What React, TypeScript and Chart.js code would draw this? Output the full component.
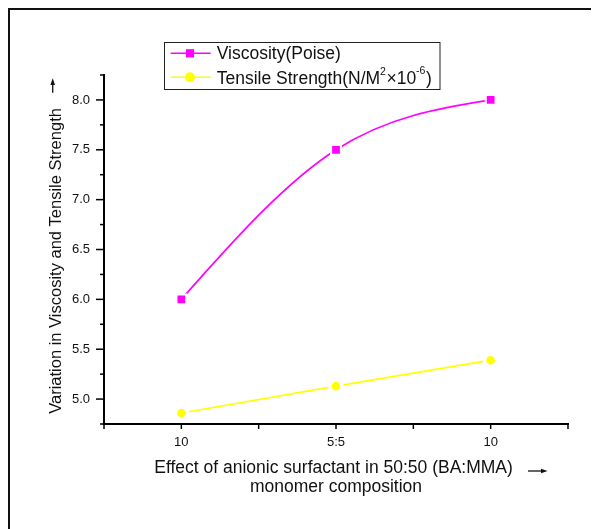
import { useEffect, useRef } from "react";
import { Chart, registerables } from "chart.js";

Chart.register(...registerables);

// ---- data ----
const categories = ["10", "5:5", "10"];
const categoryPositions = [1, 2, 3];
const viscosity = [6.0, 7.5, 8.0];
const tensile = [4.86, 5.13, 5.39];
const seriesNames = ["Viscosity(Poise)", "Tensile Strength(N/M²×10⁻⁶)"];
const yMin = 4.75;
const yMax = 8.25;
const yStep = 0.25;
const yLabelStep = 0.5;
const xMin = 0.5;
const xMax = 3.5;
const xStep = 0.5;
const xTitle = ["Effect of anionic surfactant in 50:50 (BA:MMA) ", "monomer composition"];
const yTitle = "Variation in Viscosity and Tensile Strength     ";

const FONT = "'Liberation Sans', Arial, Helvetica, sans-serif";
const MAGENTA = "#FF00FF";
const YELLOW = "#FFFF00";

const isMajorY = (v: number) => Math.abs(v / yLabelStep - Math.round(v / yLabelStep)) < 1e-6;

function buildTicks(min: number, max: number, step: number) {
  const out: { value: number }[] = [];
  const n = Math.round((max - min) / step);
  for (let i = 0; i <= n; i++) out.push({ value: +(min + i * step).toFixed(4) });
  return out;
}

// Replace Chart.js' bezier control points with those of a natural cubic spline
// (as Origin draws its "spline" connect style), computed from the scaled points.
const splinePlugin = {
  id: "naturalSpline",
  beforeDatasetDraw(chart: any, args: any) {
    const meta = chart.getDatasetMeta(args.index);
    const line = meta.dataset;
    if (!line) return;
    line.updateControlPoints(chart.chartArea, "x");
    const pts = meta.data;
    const n = pts.length;
    if (n < 3) return;
    const xs = pts.map((p: any) => p.x);
    const ys = pts.map((p: any) => p.y);
    const h: number[] = [];
    for (let i = 0; i < n - 1; i++) h[i] = xs[i + 1] - xs[i];
    const a: number[] = [], b: number[] = [], c: number[] = [], d: number[] = [];
    for (let i = 1; i < n - 1; i++) {
      a[i] = h[i - 1];
      b[i] = 2 * (h[i - 1] + h[i]);
      c[i] = h[i];
      d[i] = 6 * ((ys[i + 1] - ys[i]) / h[i] - (ys[i] - ys[i - 1]) / h[i - 1]);
    }
    const M = new Array(n).fill(0);
    const cp: number[] = [], dp: number[] = [];
    for (let i = 1; i < n - 1; i++) {
      const m = b[i] - (i > 1 ? a[i] * cp[i - 1] : 0);
      cp[i] = c[i] / m;
      dp[i] = (d[i] - (i > 1 ? a[i] * dp[i - 1] : 0)) / m;
    }
    for (let i = n - 2; i >= 1; i--) {
      M[i] = dp[i] - (i < n - 2 ? cp[i] * M[i + 1] : 0);
    }
    for (let i = 0; i < n - 1; i++) {
      const hh = h[i];
      const s = (ys[i + 1] - ys[i]) / hh;
      const m0 = s - (hh * (2 * M[i] + M[i + 1])) / 6;
      const m1 = s + (hh * (M[i] + 2 * M[i + 1])) / 6;
      pts[i].cp2x = xs[i] + hh / 3;
      pts[i].cp2y = ys[i] + (m0 * hh) / 3;
      pts[i + 1].cp1x = xs[i + 1] - hh / 3;
      pts[i + 1].cp1y = ys[i + 1] - (m1 * hh) / 3;
    }
  },
};

const decorPlugin = {
  id: "decor",
  afterDraw(chart: any) {
    const ctx: CanvasRenderingContext2D = chart.ctx;
    const { left, bottom } = chart.chartArea;
    ctx.save();
    // outer frame
    ctx.fillStyle = "#111";
    ctx.fillRect(0, 0, chart.width, 2);
    ctx.fillRect(0, 0, 2, chart.height);

    // tick marks
    ctx.strokeStyle = "#000";
    ctx.lineWidth = 1.5;
    const ys = chart.scales.y;
    ys.ticks.forEach((t: any) => {
      const py = ys.getPixelForValue(t.value);
      const len = isMajorY(t.value) ? 8 : 4;
      ctx.beginPath();
      ctx.moveTo(left, py);
      ctx.lineTo(left - len, py);
      ctx.stroke();
    });
    const xs = chart.scales.x;
    xs.ticks.forEach((t: any) => {
      const px = xs.getPixelForValue(t.value);
      ctx.beginPath();
      ctx.moveTo(px, bottom);
      ctx.lineTo(px, bottom + 5);
      ctx.stroke();
    });

    // arrows
    ctx.fillStyle = "#111";
    ctx.strokeStyle = "#111";
    ctx.lineWidth = 1.3;
    const ax = 44.7;
    ctx.beginPath();
    ctx.moveTo(ax, 84.7);
    ctx.lineTo(ax, 75);
    ctx.stroke();
    ctx.beginPath();
    ctx.moveTo(ax, 70.3);
    ctx.lineTo(ax - 2.3, 77);
    ctx.lineTo(ax + 2.3, 77);
    ctx.closePath();
    ctx.fill();
    const ay = 463;
    ctx.beginPath();
    ctx.moveTo(520, ay);
    ctx.lineTo(534, ay);
    ctx.stroke();
    ctx.beginPath();
    ctx.moveTo(539.5, ay);
    ctx.lineTo(533, ay - 2.3);
    ctx.lineTo(533, ay + 2.3);
    ctx.closePath();
    ctx.fill();

    // legend
    const bx = 156.5, by = 34.5, bw = 275.5, bh = 47;
    ctx.strokeStyle = "#222";
    ctx.lineWidth = 1;
    ctx.strokeRect(bx, by, bw, bh);
    const rows = [45.3, 69.3];
    const colors = [MAGENTA, YELLOW];
    rows.forEach((ry, i) => {
      ctx.strokeStyle = colors[i];
      ctx.lineWidth = 1.5;
      ctx.beginPath();
      ctx.moveTo(162.7, ry);
      ctx.lineTo(202.7, ry);
      ctx.stroke();
      ctx.fillStyle = colors[i];
      if (i === 0) {
        ctx.fillRect(182 - 4.1, ry - 4.1, 8.2, 8.2);
      } else {
        ctx.beginPath();
        ctx.arc(182, ry, 5, 0, Math.PI * 2);
        ctx.fill();
      }
    });
    ctx.fillStyle = "#111";
    ctx.textBaseline = "alphabetic";
    ctx.textAlign = "left";
    const main = `17.5px ${FONT}`;
    const sup = `10.5px ${FONT}`;
    ctx.font = main;
    ctx.fillText(seriesNames[0], 208.7, 51.3);
    const segs: [string, boolean, number][] = [
      ["Tensile Strength(N/M", false, 0],
      ["2", true, 8.3],
      ["×10", false, 0],
      ["-6", true, 10],
      [")", false, 0],
    ];
    let tx = 208.7;
    const base = 75.5;
    segs.forEach(([s, isSup, raise]) => {
      ctx.font = isSup ? sup : main;
      ctx.fillText(s, tx, base - raise);
      tx += ctx.measureText(s).width + (isSup ? 0.5 : 0);
    });
    ctx.restore();
  },
};

export default function App() {
  const ref = useRef<HTMLCanvasElement | null>(null);
  useEffect(() => {
    document.documentElement.style.overflow = "hidden";
    document.body.style.overflow = "hidden";
    const canvas = ref.current;
    if (!canvas) return;
    const chart = new Chart(canvas, {
      type: "line",
      data: {
        datasets: [
          {
            label: seriesNames[0],
            data: categoryPositions.map((x, i) => ({ x, y: viscosity[i] })),
            borderColor: MAGENTA,
            backgroundColor: MAGENTA,
            borderWidth: 1.7,
            tension: 0.4,
            pointStyle: "rect",
            pointRadius: 6.9,
            pointBorderWidth: 2,
            pointBorderColor: "#ffffff",
            pointBackgroundColor: MAGENTA,
            fill: false,
          },
          {
            label: seriesNames[1],
            data: categoryPositions.map((x, i) => ({ x, y: tensile[i] })),
            borderColor: YELLOW,
            backgroundColor: YELLOW,
            borderWidth: 1.7,
            tension: 0.4,
            pointStyle: "circle",
            pointRadius: 6,
            pointBorderWidth: 3.4,
            pointBorderColor: "#ffffff",
            pointBackgroundColor: YELLOW,
            fill: false,
          },
        ],
      },
      options: {
        animation: false,
        responsive: false,
        devicePixelRatio: 1,
        layout: { padding: { left: 0, top: 67, right: 31, bottom: 0 } },
        plugins: {
          legend: { display: false },
          tooltip: { enabled: false },
        },
        scales: {
          x: {
            type: "linear",
            min: xMin,
            max: xMax,
            afterFit: (s: any) => {
              s.height = 105;
            },
            afterBuildTicks: (s: any) => {
              s.ticks = buildTicks(xMin, xMax, xStep);
            },
            ticks: {
              autoSkip: false,
              maxRotation: 0,
              padding: 11,
              color: "#111",
              font: { family: FONT, size: 13 },
              callback: (v: any) => {
                const idx = categoryPositions.indexOf(Number(v));
                return idx >= 0 ? categories[idx] : "";
              },
            },
            grid: { display: false, drawTicks: false },
            border: { display: true, color: "#000", width: 2 },
            title: {
              display: true,
              text: xTitle,
              color: "#111",
              font: { family: FONT, size: 17.5, lineHeight: 1.1 },
              padding: { top: 0, bottom: 32.4 },
            },
          },
          y: {
            type: "linear",
            min: yMin,
            max: yMax,
            afterFit: (s: any) => {
              s.width = 96;
            },
            afterBuildTicks: (s: any) => {
              s.ticks = buildTicks(yMin, yMax, yStep);
            },
            ticks: {
              autoSkip: false,
              padding: 14,
              color: "#111",
              font: { family: FONT, size: 13 },
              callback: (v: any) => (isMajorY(Number(v)) ? Number(v).toFixed(1) : ""),
            },
            grid: { display: false, drawTicks: false },
            border: { display: true, color: "#000", width: 2 },
            title: {
              display: true,
              text: yTitle,
              color: "#111",
              font: { family: FONT, size: 16.5, lineHeight: 1.2 },
              padding: { top: 38.3, bottom: 0 },
            },
          },
        },
      },
      plugins: [splinePlugin, decorPlugin],
    } as any);
    return () => chart.destroy();
  }, []);
  return <canvas ref={ref} width={591} height={521} style={{ display: "block" }} />;
}
